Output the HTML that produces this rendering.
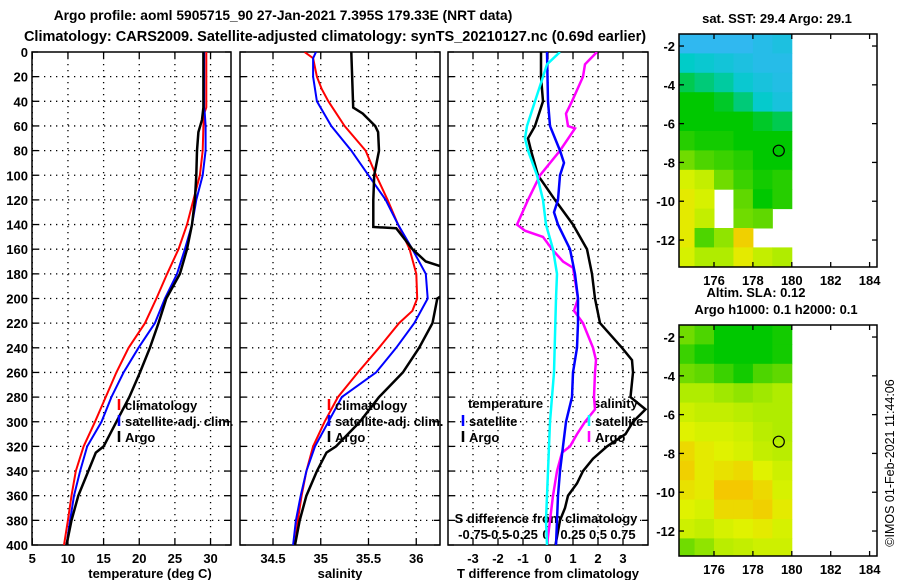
<!DOCTYPE html>
<html><head><meta charset="utf-8"><style>
html,body{margin:0;padding:0;background:#fff}
svg{display:block;font-family:"Liberation Sans",sans-serif;font-weight:bold}
</style></head><body>
<svg id="c" width="900" height="580" viewBox="0 0 900 580" xmlns="http://www.w3.org/2000/svg">
<text x="283" y="20" font-size="13.8" text-anchor="middle">Argo profile: aoml 5905715_90 27-Jan-2021 7.395S 179.33E (NRT data)</text>
<text x="335" y="41" font-size="14.5" text-anchor="middle">Climatology: CARS2009. Satellite-adjusted climatology: synTS_20210127.nc (0.69d earlier)</text>
<text x="150" y="578" font-size="13" text-anchor="middle">temperature (deg C)</text>
<text x="340" y="578" font-size="13" text-anchor="middle">salinity</text>
<text x="548" y="578" font-size="13" text-anchor="middle">T difference from climatology</text>
<text x="546" y="523" font-size="13" text-anchor="middle">S difference from climatology</text>
<text x="777" y="23" font-size="13" text-anchor="middle">sat. SST: 29.4 Argo: 29.1</text>
<text x="756" y="297" font-size="13" text-anchor="middle">Altim. SLA: 0.12</text>
<text x="776" y="314" font-size="13" text-anchor="middle">Argo h1000: 0.1 h2000: 0.1</text>
<text x="0" y="0" font-size="12.5" font-weight="normal" text-anchor="middle" transform="translate(894,463) rotate(-90)">©IMOS 01-Feb-2021 11:44:06</text>
<text x="468" y="408" font-size="13">temperature</text>
<text x="593" y="408" font-size="13">salinity</text>
</svg>
<script>
// ---------- data ----------
const depthTicks = [0,20,40,60,80,100,120,140,160,180,200,220,240,260,280,300,320,340,360,380,400];
const tempTicks = [5,10,15,20,25,30];
const salTicks = [34.5,35,35.5,36];
const tDiffTicks = [-3,-2,-1,0,1,2,3];
const sDiffTickLabels = ["-0.75","-0.5","-0.25","0","0.25","0.5","0.75"];
const sDiffTicks = [-0.75,-0.5,-0.25,0,0.25,0.5,0.75];

const tClimDepth = [0,45,50,60,80,100,120,140,160,180,200,220,240,260,280,300,320,340,360,380,400];
const tClim = [29.4,29.4,29.1,29.0,28.9,28.5,27.6,26.7,25.5,23.9,22.4,20.8,18.5,16.8,15.3,13.8,12.2,11.1,10.5,10.0,9.45];
const tSatDepth = [0,45,50,60,80,100,120,140,160,180,200,220,240,260,280,300,320,340,360,380,400];
const tSat = [29.1,29.1,29.2,29.3,29.3,28.9,28.0,27.4,26.4,25.3,23.6,22.2,19.9,17.8,16.1,14.7,12.7,11.7,10.85,10.3,9.8];
const tArgoDepth = [0,45,55,65,80,100,120,140,160,180,200,220,240,260,280,300,320,325,340,360,380,400];
const tArgo = [29.0,29.0,28.8,28.3,28.1,28.0,27.8,27.4,26.7,25.7,23.8,22.7,21.5,20.1,18.6,16.8,15.0,13.9,12.85,11.45,10.5,9.8];

const sClimDepth = [0,5,20,30,40,60,80,100,120,140,160,180,200,210,220,240,260,280,300,320,340,360,380,400];
const sClim = [34.83,34.92,34.96,35.01,35.08,35.25,35.47,35.58,35.70,35.81,35.93,36.0,36.01,35.96,35.82,35.61,35.39,35.18,35.04,34.92,34.85,34.80,34.76,34.73];
const sSatDepth = [0,5,20,40,60,80,100,120,140,160,180,200,220,240,260,280,300,320,340,360,380,400];
const sSat = [34.95,34.92,34.92,34.96,35.11,35.32,35.5,35.68,35.81,35.96,36.1,36.12,35.98,35.79,35.58,35.22,35.08,34.94,34.85,34.79,34.74,34.71];
const sArgoDepth = [0,45,50,60,65,80,100,120,142,143,150,160,170,175,196,200,220,240,260,280,300,320,325,340,360,380,400];
const sArgo = [35.32,35.34,35.44,35.57,35.60,35.61,35.56,35.55,35.55,35.79,35.86,35.96,36.1,36.3,36.3,36.22,36.17,36.03,35.86,35.61,35.41,35.16,35.06,34.96,34.85,34.78,34.73];

const dTSatDepth = [0,40,60,80,90,100,120,130,140,160,180,200,220,240,260,280,300,320,340,360,380,400];
const dTSat = [-0.04,0,0.08,0.48,0.64,0.48,0.4,0.24,0.4,0.88,1.08,1.2,1.2,1.16,1.0,0.96,0.72,0.6,0.48,0.4,0.36,0.32];
const dTArgoDepth = [0,20,40,60,70,80,100,120,140,160,180,200,220,240,250,260,280,290,300,310,320,330,340,350,360,370,380,400];
const dTArgo = [-0.28,-0.28,-0.2,-0.52,-0.8,-0.68,-0.4,0.28,1.0,1.56,1.76,1.88,2.08,2.96,3.36,3.4,3.3,3.9,3.4,3.1,2.36,1.8,1.4,1.16,0.8,0.68,0.48,0.3];
const dSSatDepth = [0,10,20,40,60,70,80,100,120,140,160,180,200,260,280,300,320,340,360,380,400];
const dSSat = [0.12,-0.01,-0.05,-0.13,-0.21,-0.23,-0.2,-0.11,-0.05,-0.02,0.05,0.09,0.08,0.06,0.04,0.02,0.01,0,-0.01,-0.02,-0.01];
const dSArgoDepth = [0,10,20,40,50,60,62,80,100,120,140,145,150,160,170,175,200,210,220,240,250,260,280,290,300,310,320,325,340,350,360,380,400];
const dSArgo = [0.49,0.37,0.35,0.24,0.18,0.2,0.27,0.12,-0.08,-0.2,-0.31,-0.23,-0.05,0.04,0.15,0.25,0.3,0.26,0.35,0.45,0.48,0.47,0.46,0.47,0.37,0.29,0.22,0.14,0.09,0.07,0.05,0.02,-0.01];

const mapLonTicks = [176,178,180,182,184];
const mapLatTicks = [-2,-4,-6,-8,-10,-12];
const sstGrid = [
 [0,0,0,0,0.1,0.2],
 [0.5,0.4,0.3,0.2,0.1,0.1],
 [0.8,0.7,0.6,0.4,0.25,0.15],
 [1,1,0.9,0.7,0.45,0.25],
 [1,1,1,1,0.9,0.8],
 [1.2,1.1,1.1,1,1,1],
 [1.6,1.4,1.3,1.2,1,1],
 [2.4,2.2,1.6,1.3,1.1,1.2],
 [2.6,2.4,null,1.5,1,1.2],
 [2.6,2.2,null,1.6,1.5,null],
 [2.6,1.4,1.8,2.9,null,null],
 [2.4,2.0,2.0,2.6,2.2,2.0]
];
const hGrid = [
 [1.6,1.4,1.0,1.0,1.0,1.1],
 [1.3,1.1,1.0,1.0,1.0,1.1],
 [1.6,1.5,1.3,1.1,1.4,1.5],
 [2.0,2.0,1.9,1.8,1.9,2.0],
 [2.3,2.2,2.2,2.1,2.0,2.0],
 [2.5,2.4,2.4,2.3,2.1,2.0],
 [2.8,2.6,2.5,2.4,2.2,2.1],
 [2.9,2.6,2.7,2.8,2.5,2.3],
 [2.7,2.6,3.0,3.0,2.8,2.4],
 [2.5,2.4,2.8,2.8,2.9,2.6],
 [2.3,2.2,2.4,2.5,2.6,2.4],
 [1.6,1.8,2.1,2.2,2.3,2.3]
];
const argoLon = 179.33, argoLat = -7.395;

// ---------- drawing ----------
const NS = "http://www.w3.org/2000/svg";
const svg = document.getElementById('c');
function mk(tag, attrs, parent){const e=document.createElementNS(NS,tag);for(const k in attrs)e.setAttribute(k,attrs[k]);(parent||svg).appendChild(e);return e;}

const yTop=52, yBot=545;
const yD = d => yTop + d*(yBot-yTop)/400;
const xT = t => 32.3 + (t-5)*7.13;
const xS = s => 273 + (s-34.5)*95.5;
const xDT = t => 548 + t*25;
const xDS = s => 548 + s*100;

const panels = [{x0:32,x1:231,name:'temperature-panel'},{x0:240,x1:440,name:'salinity-panel'},{x0:448,x1:648,name:'difference-panel'}];
const defs = mk('defs',{});
panels.forEach((p,i)=>{
  const cp = mk('clipPath',{id:'clip'+i},defs);
  mk('rect',{x:p.x0,y:yTop,width:p.x1-p.x0,height:yBot-yTop},cp);
});

function grid(p, xs){
  const g = mk('g',{});
  
  
  depthTicks.forEach(d=>{
    if(d>0 && d<400) mk('line',{x1:p.x0,x2:p.x1,y1:yD(d),y2:yD(d),stroke:'#000','stroke-width':1.3,'stroke-dasharray':'1.3,4.7'},g);
    mk('line',{x1:p.x0,x2:p.x0+6,y1:yD(d),y2:yD(d),stroke:'#000','stroke-width':1.3},g);
    mk('line',{x1:p.x1-6,x2:p.x1,y1:yD(d),y2:yD(d),stroke:'#000','stroke-width':1.3},g);
  });
  xs.forEach(x=>{
    mk('line',{x1:x,x2:x,y1:yTop,y2:yBot,stroke:'#000','stroke-width':1.3,'stroke-dasharray':'1.3,4.7'},g);
    mk('line',{x1:x,x2:x,y1:yBot-6,y2:yBot,stroke:'#000','stroke-width':1.3},g);
    mk('line',{x1:x,x2:x,y1:yTop,y2:yTop+6,stroke:'#000','stroke-width':1.3},g);
  });
  const r = mk('rect',{x:p.x0,y:yTop,width:p.x1-p.x0,height:yBot-yTop,fill:'none',stroke:'#000','stroke-width':1.5},svg);
  
  
}
grid(panels[0], tempTicks.map(xT));
grid(panels[1], salTicks.map(xS));
grid(panels[2], tDiffTicks.map(xDT));

depthTicks.forEach(d=>{
  const t = mk('text',{x:28,y:yD(d)+5,'font-size':13,'text-anchor':'end'});
  t.textContent = d;
  
  
});
tempTicks.forEach(v=>{
  const t = mk('text',{x:xT(v),y:563,'font-size':13,'text-anchor':'middle'}); t.textContent=v;
  
  
});
salTicks.forEach(v=>{
  const t = mk('text',{x:xS(v),y:563,'font-size':13,'text-anchor':'middle'}); t.textContent=v;
  
  
});
tDiffTicks.forEach(v=>{
  const t = mk('text',{x:xDT(v),y:563,'font-size':13,'text-anchor':'middle'}); t.textContent=v;
  
  
});
sDiffTicks.forEach((v,i)=>{
  const t = mk('text',{x:xDS(v)+(v===0?-2:0),y:539,'font-size':13,'text-anchor':'middle'}); t.textContent=sDiffTickLabels[i];
  
  
});

function line(depths, vals, xf, color, w, clip, name){
  const pts = depths.map((d,i)=>xf(vals[i]).toFixed(1)+','+yD(d).toFixed(1)).join(' ');
  const pl = mk('polyline',{points:pts,fill:'none',stroke:color,'stroke-width':w,'stroke-linejoin':'miter','clip-path':'url(#clip'+clip+')'});
  
  
}
line(tClimDepth,tClim,xT,'#ff0000',2,0,'temperature-climatology-line');
line(tSatDepth,tSat,xT,'#0000ff',2,0,'temperature-satellite-line');
line(tArgoDepth,tArgo,xT,'#000',2.5,0,'temperature-argo-line');
line(sClimDepth,sClim,xS,'#ff0000',2,1,'salinity-climatology-line');
line(sSatDepth,sSat,xS,'#0000ff',2,1,'salinity-satellite-line');
line(sArgoDepth,sArgo,xS,'#000',2.5,1,'salinity-argo-line');
line(dTArgoDepth,dTArgo,xDT,'#000',2.5,2,'t-difference-argo-line');
line(dSArgoDepth,dSArgo,xDS,'#ff00ff',2.5,2,'s-difference-argo-line');
line(dTSatDepth,dTSat,xDT,'#0000ff',2.5,2,'t-difference-satellite-line');
line(dSSatDepth,dSSat,xDS,'#00ffff',2.5,2,'s-difference-satellite-line');

function leg(x, y, color, label, name){
  const g = mk('g',{});
  
  
  mk('line',{x1:x,x2:x,y1:y-11,y2:y,stroke:color,'stroke-width':2.5},g);
  const t = mk('text',{x:x+6,y:y,'font-size':13},g); t.textContent = label;
}
leg(119,410,'#ff0000','climatology','legend-temperature-climatology');
leg(119,426,'#0000ff','satellite-adj. clim.','legend-temperature-satellite');
leg(119,442,'#000','Argo','legend-temperature-argo');
leg(329,410,'#ff0000','climatology','legend-salinity-climatology');
leg(329,426,'#0000ff','satellite-adj. clim.','legend-salinity-satellite');
leg(329,442,'#000','Argo','legend-salinity-argo');
leg(463,426,'#0000ff','satellite','legend-difference-t-satellite');
leg(463,442,'#000','Argo','legend-difference-t-argo');
leg(589,426,'#00ffff','satellite','legend-difference-s-satellite');
leg(589,442,'#ff00ff','Argo','legend-difference-s-argo');

const stops = [[0,[48,184,240]],[0.5,[0,204,200]],[1,[0,200,0]],[1.5,[96,216,0]],[2,[176,236,0]],[2.5,[224,242,0]],[3,[244,200,0]],[3.5,[232,128,0]]];
function col(v){
  for(let i=0;i<stops.length-1;i++){
    const [a,ca]=stops[i],[b,cb]=stops[i+1];
    if(v<=b||i===stops.length-2){const f=Math.max(0,Math.min(1,(v-a)/(b-a)));return 'rgb('+ca.map((c,j)=>Math.round(c+(cb[j]-c)*f)).join(',')+')';}
  }
}
function map(grid, y0, y1, latTop, name){
  const x0=679,x1=877;
  const xL = lon => 714 + (lon-176)*19.45;
  const pxPerLat = 19.4;
  const yL = lat => y0 + (latTop-lat)*pxPerLat;
  const g = mk('g',{});
  
  
  const lonEdges=[174.2,175,176,177,178,179,180];
  grid.forEach((row,r)=>{
    row.forEach((v,c)=>{
      if(v===null) return;
      const la0 = latTop - r, la1 = Math.max(latTop - r - 1, latTop-(y1-y0)/pxPerLat);
      const cell = mk('rect',{x:xL(lonEdges[c]),y:yL(la0),width:xL(lonEdges[c+1])-xL(lonEdges[c])+0.5,height:yL(la1)-yL(la0)+0.5,fill:col(v)},g);
      
      
    });
  });
  mk('rect',{x:x0,y:y0,width:x1-x0,height:y1-y0,fill:'none',stroke:'#000','stroke-width':1.5},g);
  mapLonTicks.forEach(lon=>{
    mk('line',{x1:xL(lon),x2:xL(lon),y1:y0,y2:y0+5,stroke:'#000','stroke-width':1.3},g);
    mk('line',{x1:xL(lon),x2:xL(lon),y1:y1-5,y2:y1,stroke:'#000','stroke-width':1.3},g);
    const t = mk('text',{x:xL(lon),y:y1+18,'font-size':13,'text-anchor':'middle'},g); t.textContent=lon;
    
    
  });
  mapLatTicks.forEach(lat=>{
    mk('line',{x1:x0,x2:x0+5,y1:yL(lat),y2:yL(lat),stroke:'#000','stroke-width':1.3},g);
    mk('line',{x1:x1-5,x2:x1,y1:yL(lat),y2:yL(lat),stroke:'#000','stroke-width':1.3},g);
    const t = mk('text',{x:675,y:yL(lat)+5,'font-size':13,'text-anchor':'end'},g); t.textContent=lat;
    
    
  });
  const c = mk('circle',{cx:xL(argoLon),cy:yL(argoLat),r:5.5,fill:'none',stroke:'#000','stroke-width':1.2},g);
  
  
}
map(sstGrid,34,267,-1.38,'sst-map');
map(hGrid,325,556,-1.38,'height-map');
</script>
</body></html>
